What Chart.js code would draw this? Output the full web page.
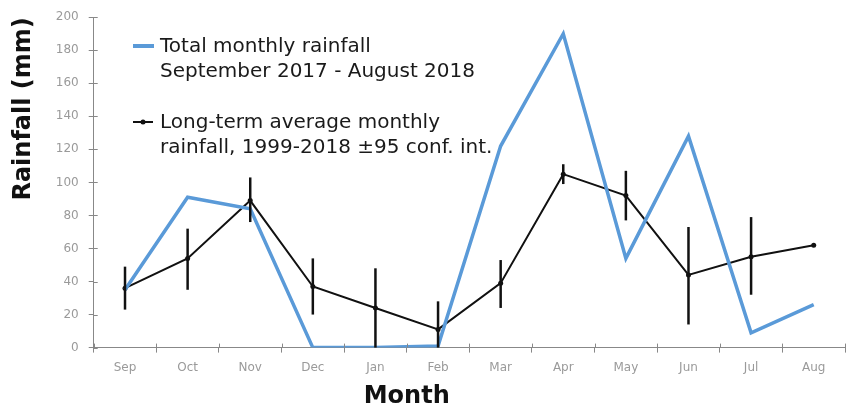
<!DOCTYPE html>
<html>
<head>
<meta charset="utf-8">
<script src="https://cdn.jsdelivr.net/npm/chart.js@4.4.0/dist/chart.umd.min.js"></script>
<style>
  html, body { margin: 0; padding: 0; background: #fff; }
  #wrap { width: 854px; height: 405px; }
</style>
</head>
<body>
<div id="wrap"><canvas id="rainChart" width="854" height="405"></canvas></div>
<script>
// Data
const months = ["Sep", "Oct", "Nov", "Dec", "Jan", "Feb", "Mar", "Apr", "May", "Jun", "Jul", "Aug"];
const totalRainfall = [35, 91, 84, 0, 0, 1, 122, 190, 54, 128, 9, 26];
const avgRainfall = [36, 54, 89, 37, 24, 11, 39, 105, 92, 44, 55, 62];
const avgLow = [23, 35, 76, 20, 0, 0, 24, 99, 77, 14, 32, null];
const avgHigh = [49, 72, 103, 54, 48, 28, 53, 111, 107, 73, 79, null];
const yTicks = [0, 20, 40, 60, 80, 100, 120, 140, 160, 180, 200];

const tickFont = { family: "'DejaVu Sans', sans-serif", size: 12 };
const tickColor = '#9a9a9a';
const titleFont = { family: "'DejaVu Sans', sans-serif", size: 24, weight: 'bold' };

// Vertical confidence interval bars for the average series
const errorBars = {
    id: 'errorBars',
    afterDatasetsDraw(chart) {
        const ctx = chart.ctx;
        const x = chart.scales.x;
        const y = chart.scales.y;
        ctx.save();
        ctx.strokeStyle = '#111';
        ctx.lineWidth = 2.5;
        avgLow.forEach(function(lo, i) {
            if (lo === null) return;
            const px = x.getPixelForValue(i);
            ctx.beginPath();
            ctx.moveTo(px, y.getPixelForValue(lo));
            ctx.lineTo(px, y.getPixelForValue(avgHigh[i]));
            ctx.stroke();
        });
        ctx.restore();
    }
};

// Tick marks that cross the axis lines, plus the x axis title (sits left of centre)
const crossTicks = {
    id: 'crossTicks',
    afterDraw(chart) {
        const ctx = chart.ctx;
        const area = chart.chartArea;
        const x = chart.scales.x;
        const y = chart.scales.y;
        ctx.save();
        ctx.strokeStyle = '#888';
        ctx.lineWidth = 1;
        yTicks.forEach(function(v) {
            const py = Math.round(y.getPixelForValue(v)) + 0.5;
            ctx.beginPath();
            ctx.moveTo(area.left, py);
            ctx.lineTo(area.left + 4, py);
            ctx.stroke();
        });
        for (let i = 0; i <= months.length; i++) {
            const px = Math.round(x.getPixelForValue(i - 0.5)) + 0.5;
            ctx.beginPath();
            ctx.moveTo(px, area.bottom - 4);
            ctx.lineTo(px, area.bottom);
            ctx.stroke();
        }
        ctx.font = "bold 24px 'DejaVu Sans', sans-serif";
        ctx.fillStyle = '#111';
        ctx.textAlign = 'center';
        ctx.textBaseline = 'alphabetic';
        ctx.fillText('Month', x.getPixelForValue(4.5), 403);
        ctx.restore();
    }
};

// Two-line legend drawn inside the plot area
const innerLegend = {
    id: 'innerLegend',
    afterDraw(chart) {
        const ctx = chart.ctx;
        ctx.save();
        ctx.font = "20px 'DejaVu Sans', sans-serif";
        ctx.fillStyle = '#1a1a1a';
        ctx.textBaseline = 'middle';
        ctx.textAlign = 'left';
        // blue swatch
        ctx.strokeStyle = '#5a9ad8';
        ctx.lineWidth = 4;
        ctx.beginPath();
        ctx.moveTo(133, 46);
        ctx.lineTo(154, 46);
        ctx.stroke();
        ctx.fillText('Total monthly rainfall', 160, 47);
        ctx.fillText('September 2017 - August 2018', 160, 72);
        // black swatch
        ctx.strokeStyle = '#111';
        ctx.lineWidth = 2;
        ctx.beginPath();
        ctx.moveTo(133, 122);
        ctx.lineTo(153, 122);
        ctx.stroke();
        ctx.beginPath();
        ctx.arc(143, 122, 2.5, 0, Math.PI * 2);
        ctx.fillStyle = '#111';
        ctx.fill();
        ctx.fillStyle = '#1a1a1a';
        ctx.fillText('Long-term average monthly', 160, 123);
        ctx.fillText('rainfall, 1999-2018 \u00b195 conf. int.', 160, 148);
        ctx.restore();
    }
};

const rainChart = new Chart(document.getElementById('rainChart'), {
    type: 'line',
    data: {
        labels: months,
        datasets: [{
            label: 'Total monthly rainfall September 2017 - August 2018',
            data: totalRainfall,
            borderColor: '#5a9ad8',
            borderWidth: 3.5,
            pointRadius: 0,
            tension: 0,
            fill: false
        }, {
            label: 'Long-term average monthly rainfall, 1999-2018 \u00b195 conf. int.',
            data: avgRainfall,
            borderColor: '#111',
            backgroundColor: '#111',
            borderWidth: 2,
            pointRadius: 2.5,
            pointBorderWidth: 0,
            tension: 0,
            fill: false
        }]
    },
    options: {
        responsive: false,
        animation: false,
        layout: { padding: { top: 16, right: 9, left: 9, bottom: 22 } },
        plugins: {
            legend: { display: false },
            tooltip: { enabled: false }
        },
        scales: {
            x: {
                offset: true,
                grid: { offset: true, drawOnChartArea: false, color: '#888', tickLength: 5 },
                border: { color: '#888', width: 1 },
                ticks: { font: tickFont, color: tickColor, padding: 8 },
                title: { display: false }
            },
            y: {
                min: 0,
                max: 200,
                afterBuildTicks: function(scale) {
                    scale.ticks = yTicks.map(function(v) { return { value: v }; });
                },
                grid: { drawOnChartArea: false, color: '#888', tickLength: 5 },
                border: { color: '#888', width: 1 },
                ticks: { font: tickFont, color: tickColor, padding: 10 },
                title: {
                    display: true,
                    text: 'Rainfall (mm)',
                    align: 'end',
                    font: titleFont,
                    color: '#111',
                    padding: { top: 0, bottom: 8 }
                }
            }
        }
    },
    plugins: [errorBars, crossTicks, innerLegend]
});
</script>
</body>
</html>
